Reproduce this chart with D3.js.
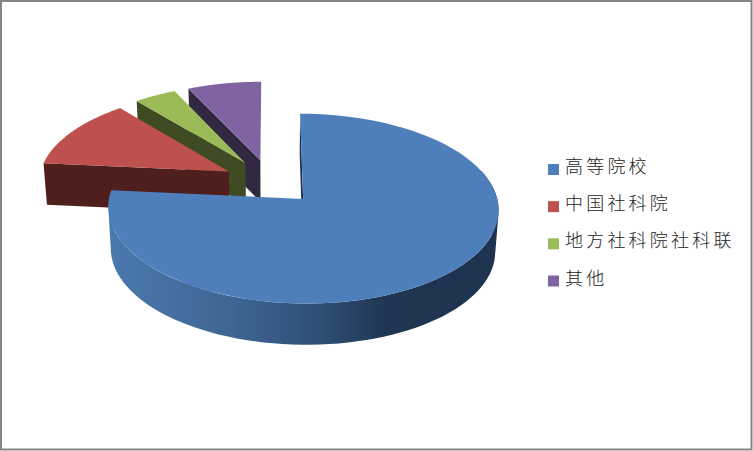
<!DOCTYPE html>
<html><head><meta charset="utf-8">
<script src="https://cdn.jsdelivr.net/npm/d3@7"></script>
<style>html,body{margin:0;padding:0;background:#fff}svg{display:block}</style>
</head><body><svg id="c" width="753" height="451"></svg>
<script>
const categories = ["高等院校","中国社科院","地方社科院社科联","其他"];
const values = [76.5,12.5,4,7];
const topColors = ["#4E7FBB","#BE504D","#9BBB59","#8064A2"];
const wallColors = ["#1E3350","#4E1F1D","#3F4B23","#332841"];

const W=753,H=451;
const svg=d3.select("#c");
// frame
svg.append("rect").attr("x",1).attr("y",1).attr("width",W-2.5).attr("height",H-2.5)
  .attr("fill","#fff").attr("stroke","#868686").attr("stroke-width",2);

// perspective projection of the exploded pie
const cx=270.5, cy=181.9, B=190.5, A=90.5, k=0.1, E=0.25, D=41.5, shrink=0.015;
function project(u,v,z){
  const s=(1-shrink*z)/(1+k*v);
  return [cx+B*u*s, cy-A*v*s+D*z/(1+0.3*k*v)];
}
const pie=d3.pie().sort(null).value(d=>d)(values);
const line=d3.line();
const defs=svg.append("defs");
const grad=defs.append("linearGradient").attr("id","blueWall")
  .attr("gradientUnits","userSpaceOnUse").attr("x1",108).attr("x2",498).attr("y1",0).attr("y2",0);
[[0,"#4B79AE"],[0.3,"#3F6795"],[0.55,"#2E4E75"],[0.72,"#1F3552"],[1,"#1E3350"]]
  .forEach(s=>grad.append("stop").attr("offset",s[0]).attr("stop-color",s[1]));

function geom(d){
  const mid=(d.startAngle+d.endAngle)/2;
  const ou=E*Math.sin(mid), ov=E*Math.cos(mid);
  const rim=(a,z)=>project(ou+Math.sin(a),ov+Math.cos(a),z);
  const apex=z=>project(ou,ov,z);
  return {rim,apex};
}
function arcPts(g,a0,a1,z){
  return d3.range(0,81).map(i=>g.rim(a0+(a1-a0)*i/80,z));
}
const layer=svg.append("g");
// back to front: purple, green, red, blue
[3,2,1,0].forEach(i=>{
  const d=pie[i], g=geom(d);
  if(i===0){
    // sliver of the radial wall at twelve o'clock
    layer.append("path").attr("fill",wallColors[0])
      .attr("d",line([g.apex(0),g.rim(d.startAngle,0),g.rim(d.startAngle,1),g.apex(1)])+"Z");
    // curved outer wall, swept as same-winding quads so the silhouette has no notch
    const a0=Math.PI*0.4, a1=d.endAngle;
    const t=arcPts(g,a0,a1,0), b=arcPts(g,a0,a1,1);
    const dStr=d3.range(0,t.length-1).map(j=>
      line(d3.polygonHull([t[j],t[j+1],b[j+1],b[j]]))+"Z").join("");
    layer.append("path").attr("fill","url(#blueWall)").attr("fill-rule","nonzero").attr("d",dStr);
  } else {
    layer.append("path").attr("fill",wallColors[i])
      .attr("d",line([g.apex(0),g.rim(d.startAngle,0),g.rim(d.startAngle,1),g.apex(1)])+"Z");
  }
  const top=[g.apex(0)].concat(arcPts(g,d.startAngle,d.endAngle,0));
  layer.append("path").attr("fill",topColors[i]).attr("d",line(top)+"Z");
});

// legend
const y=d3.scalePoint().domain(categories).range([167,278.5]);
const leg=svg.append("g").selectAll("g").data(categories).join("g")
  .attr("transform",c=>`translate(548,${y(c)})`);
leg.append("rect").attr("x",0).attr("y",-3).attr("width",11).attr("height",11)
  .attr("fill",(c,i)=>topColors[i]);
leg.append("text").attr("x",17).attr("y",6)
  .attr("font-family","'Noto Sans CJK SC'").attr("font-size",18).attr("font-weight",300)
  .attr("letter-spacing",3.2).attr("fill","#222").text(c=>c);
</script></body></html>
